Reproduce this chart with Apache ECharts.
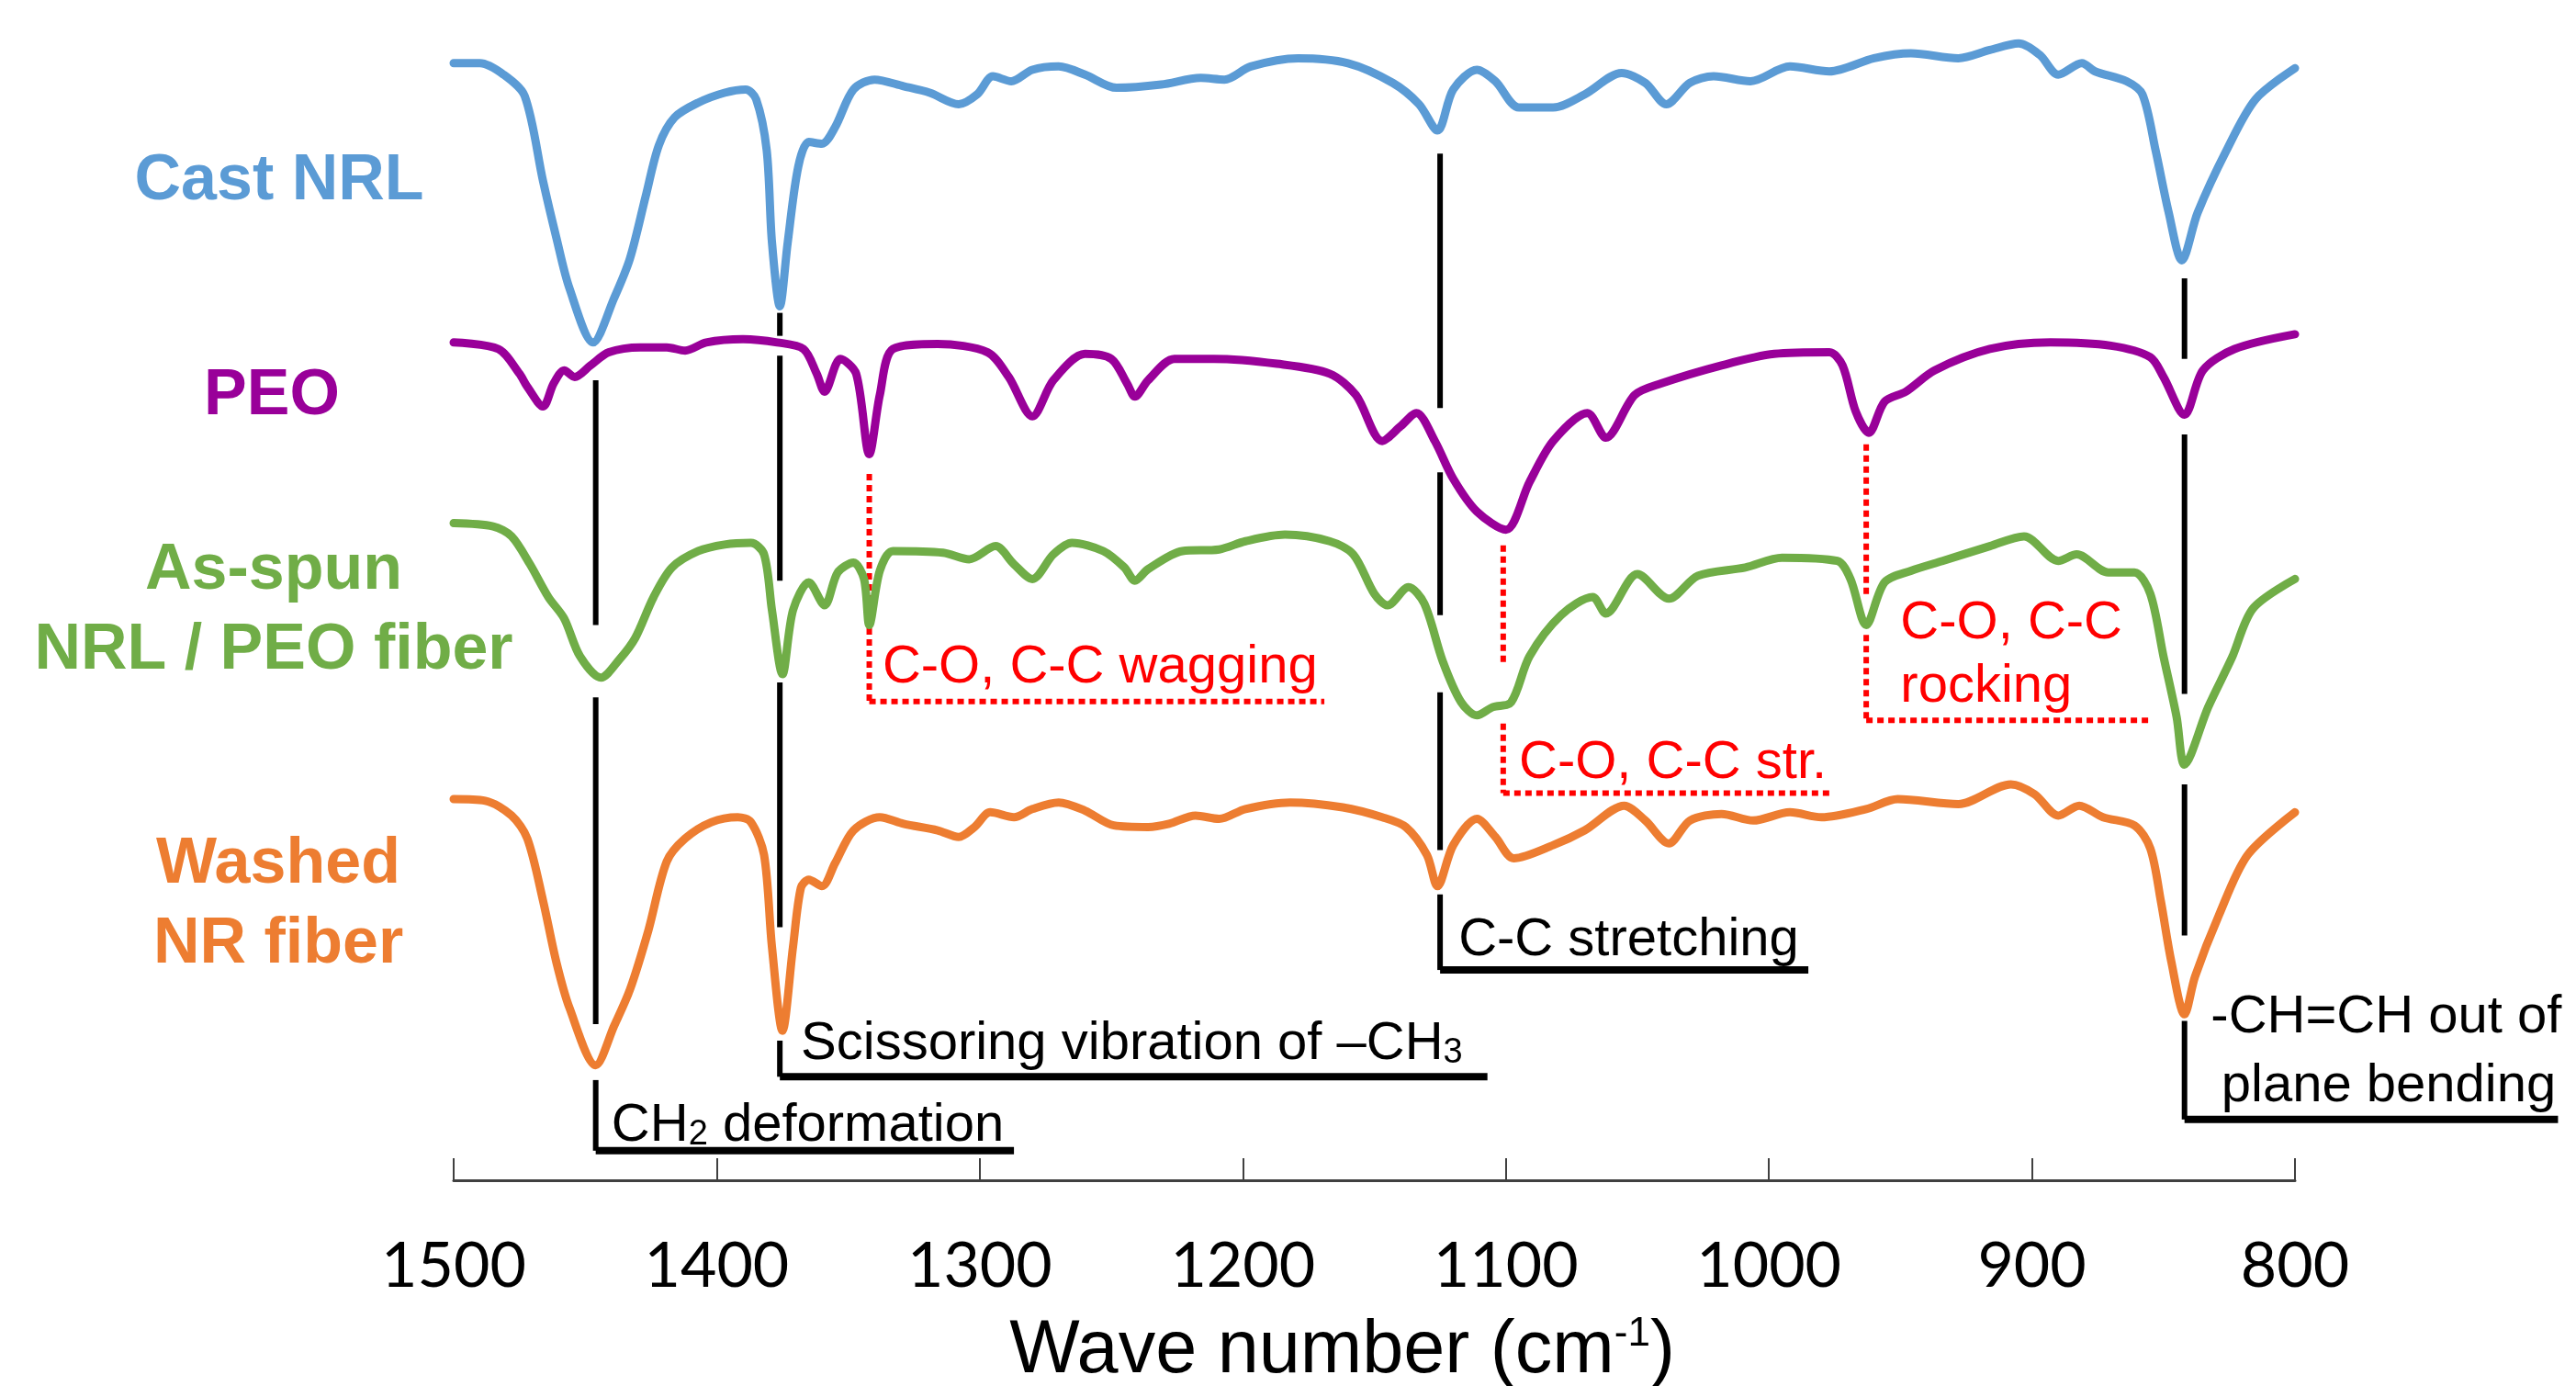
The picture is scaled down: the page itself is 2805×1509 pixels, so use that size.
<!DOCTYPE html>
<html>
<head>
<meta charset="utf-8">
<script src="https://cdn.jsdelivr.net/npm/echarts@6/dist/echarts.min.js"></script>
<style>
html,body{margin:0;padding:0;background:#fff;}
#chart{width:2805px;height:1509px;}
</style>
</head>
<body>
<div id="chart"></div>
<script>
// ---------------- data (wave number cm-1, offset transmittance a.u.) ----------------
const castNRL = [[1500,680],[1490,680],[1481,673],[1473,660],[1466,608],[1461,574],[1456,543],[1447,510],[1439,537],[1433,561],[1427,599],[1422,630],[1416,647],[1407,656],[1397,662],[1389,664],[1385,658],[1381,627],[1379,571],[1376,532],[1373,571],[1369,617],[1365,632],[1360,631],[1355,641],[1348,664],[1340,670],[1329,666],[1319,662],[1308,655],[1301,661],[1295,672],[1288,669],[1280,676],[1270,678],[1260,673],[1248,665],[1231,667],[1216,671],[1207,670],[1197,678],[1179,683],[1160,680],[1143,668],[1133,655],[1126,639],[1120,664],[1111,676],[1104,669],[1095,653],[1082,653],[1070,661],[1056,674],[1047,668],[1039,655],[1030,668],[1021,672],[1007,669],[992,678],[977,675],[960,683],[946,686],[928,683],[916,688],[905,692],[897,685],[890,673],[881,680],[876,675],[864,669],[858,661],[853,627],[848,589],[843,560],[837,589],[826,627],[815,658],[800,677]];

const peo = [[1500,510],[1483,506],[1475,491],[1472,483],[1466,471],[1462,485],[1458,493],[1454,489],[1448,496],[1441,504],[1429,507],[1419,507],[1412,505],[1404,510],[1390,512],[1377,510],[1367,506],[1362,491],[1359,480],[1353,500],[1347,491],[1342,442],[1338,478],[1333,506],[1316,509],[1297,504],[1289,489],[1280,465],[1272,487],[1260,503],[1250,500],[1244,485],[1241,477],[1236,487],[1226,500],[1211,500],[1187,497],[1167,491],[1157,478],[1147,450],[1140,459],[1134,467],[1127,450],[1120,427],[1111,407],[1100,396],[1091,425],[1082,450],[1069,467],[1062,452],[1051,478],[1041,485],[1018,496],[998,503],[977,504],[972,496],[967,468],[962,455],[956,474],[948,480],[937,493],[916,506],[893,510],[870,508],[855,501],[850,489],[842,466],[835,493],[823,506],[800,515]];

const asSpun = [[1500,400],[1485,398],[1478,392],[1471,375],[1464,355],[1458,342],[1452,319],[1444,306],[1437,317],[1431,330],[1424,355],[1417,373],[1407,383],[1397,387],[1387,388],[1382,381],[1379,347],[1375,308],[1371,347],[1365,364],[1359,350],[1354,370],[1348,376],[1344,366],[1342,338],[1338,371],[1333,383],[1314,382],[1304,378],[1294,386],[1287,375],[1280,366],[1272,381],[1265,388],[1253,383],[1245,373],[1241,365],[1236,372],[1223,383],[1209,384],[1199,389],[1184,393],[1167,389],[1158,381],[1150,357],[1145,350],[1137,361],[1131,351],[1124,316],[1117,291],[1111,283],[1105,288],[1098,291],[1091,319],[1079,344],[1067,355],[1062,345],[1050,369],[1038,354],[1027,368],[1009,373],[995,379],[974,377],[969,366],[963,338],[956,364],[946,371],[934,377],[916,386],[903,392],[890,377],[883,381],[871,370],[861,370],[855,357],[850,319],[845,282],[842,253],[833,288],[824,318],[816,348],[800,366]];

const washed = [[1500,232],[1488,231],[1478,222],[1472,208],[1466,170],[1461,133],[1456,105],[1446,70],[1439,94],[1433,116],[1426,152],[1419,194],[1412,208],[1402,218],[1392,221],[1387,218],[1382,198],[1379,142],[1375,91],[1371,142],[1368,178],[1365,183],[1360,179],[1355,193],[1348,213],[1338,221],[1329,217],[1316,213],[1308,209],[1302,215],[1296,224],[1287,221],[1280,226],[1270,230],[1260,225],[1249,216],[1236,215],[1228,217],[1218,222],[1209,220],[1199,226],[1182,230],[1162,227],[1147,221],[1138,215],[1130,198],[1126,179],[1120,204],[1111,220],[1104,209],[1097,196],[1082,204],[1070,213],[1055,228],[1047,219],[1038,205],[1030,219],[1018,223],[1006,219],[992,224],[980,221],[963,226],[951,232],[928,229],[908,241],[899,235],[890,222],[882,228],[873,221],[861,216],[855,202],[851,170],[847,133],[842,101],[838,124],[829,161],[818,198],[800,224]];

const seriesNames = ['Cast NRL', 'PEO', 'As-spun\nNRL / PEO fiber', 'Washed\nNR fiber'];
const seriesColors = ['#5B9BD5', '#990099', '#70AD47', '#ED7D31'];

// x axis range / ticks
const xMin = 800, xMax = 1500, xStep = 100;
const xTitle = '{m|Wave number (cm}{sup|-1}{m|)}';

// peak assignment guides: [wave number, from, to]
const blackSegments = [[1446,487,338],[1446,294,95],[1446,61,18],
  [1376,528,514],[1376,502,365],[1376,303,154],[1376,85,63],
  [1125,625,470],[1125,431,344],[1125,297,201],[1125,174,128],
  [842,549,500],[842,454,296],[842,241,149],[842,97,37]];
// underline: [from wn, to wn, level]
const blackUnder = [[1446,1287,18],[1376,1107,63],[1125,985,128],[842,700,37]];
const redSegments = [[1342,430,291.5],[1101,386.5,312.7],[1101,278,235.6],[963,448,356],[963,332,280]];
const redUnder = [[1342,1169,291.5],[1101,977,235.6],[963,855,280]];
// labels: [wn (left edge), level (text middle), text]
const blackTexts = [[1440,33,'CH{s|2} deformation'],[1368,83,'Scissoring vibration of \u2013CH{s|3}'],
  [1118,146,'C-C stretching'],[832,99,'-CH=CH out of'],[828,57,'plane bending']];
const redTexts = [[1337,312,'C-O, C-C wagging'],[1095,254,'C-O, C-C str.'],[950,339,'C-O, C-C'],[950,300,'rocking']];

// ---------------- build ----------------
const FONT = '"Liberation Sans", Arial, Helvetica, sans-serif';
const vSegs = s => s.map(a => [a[0], a[1], a[0], a[2]]);
const hSegs = s => s.map(a => [a[0], a[2], a[1], a[2]]);

function guideSeries(segs, color, width, dash){
  return {type:'custom', coordinateSystem:'cartesian2d', clip:false, silent:true, animation:false, z:2,
    data: segs,
    renderItem:function(params, api){
      const p1 = api.coord([api.value(0), api.value(1)]);
      const p2 = api.coord([api.value(2), api.value(3)]);
      return {type:'line', shape:{x1:p1[0], y1:p1[1], x2:p2[0], y2:p2[1]},
        style:{stroke:color, lineWidth:width, lineDash: dash || null, lineCap:'butt', fill:null}};
    }};
}
function textSeries(items, color){
  return {type:'custom', coordinateSystem:'cartesian2d', clip:false, silent:true, animation:false, z:5,
    data: items.map(t=>[t[0],t[1]]),
    renderItem:function(params, api){
      const p = api.coord([api.value(0), api.value(1)]);
      const t = items[params.dataIndex];
      return {type:'text', x:p[0], y:p[1], style:{text:t[2], fill:color,
        font:'58px ' + FONT, align:'left', verticalAlign:'middle',
        textAlign:'left', textVerticalAlign:'middle',
        rich:{s:{fontSize:38, fontFamily:FONT, fill:color, verticalAlign:'bottom', lineHeight:50}}}};
    }};
}

const curves = [castNRL, peo, asSpun, washed].map((d,i)=>({
  type:'line', name:seriesNames[i], data:d, symbol:'none', smooth:0.3, z:4, animation:false,
  lineStyle:{color:seriesColors[i], width:9, join:'round', cap:'round'}
}));

const labelPos = [[304,198],[296,432],[298,665],[303,985]];
const graphics = seriesNames.map((n,i)=>({type:'text', x:labelPos[i][0], y:labelPos[i][1], silent:true,
  style:{text:n, fill:seriesColors[i], font:'bold 70px ' + FONT,
    align:'center', verticalAlign:'middle', textAlign:'center', textVerticalAlign:'middle', lineHeight:87}}));

const chart = echarts.init(document.getElementById('chart'), null, {renderer:'canvas'});
chart.setOption({
  backgroundColor:'#ffffff',
  animation:false,
  grid:{left:494, right:306, top:33, bottom:224, containLabel:false, outerBoundsMode:'none'},
  xAxis:{type:'value', inverse:true, min:xMin, max:xMax, interval:xStep,
    axisLine:{show:true, onZero:false, lineStyle:{color:'#404040', width:3}},
    axisTick:{show:true, inside:true, length:24, lineStyle:{color:'#404040', width:2}},
    axisLabel:{margin:60, fontFamily:'Lato', fontSize:68, color:'#000', formatter:v => String(v)},
    splitLine:{show:false},
    name:xTitle, nameLocation:'middle', nameGap:146,
    nameTextStyle:{padding:[0,70,0,0], rich:{
      m:{fontFamily:FONT, fontSize:81, color:'#000', lineHeight:81},
      sup:{fontFamily:FONT, fontSize:44, color:'#000', verticalAlign:'top', lineHeight:44}}}
  },
  yAxis:{type:'value', min:0, max:700, show:false, splitLine:{show:false}},
  graphic:graphics,
  series:[
    guideSeries(vSegs(blackSegments), '#000', 6, null),
    guideSeries(hSegs(blackUnder), '#000', 8, null),
    guideSeries(vSegs(redSegments), '#FF0000', 6, [7,5]),
    guideSeries(hSegs(redUnder), '#FF0000', 6, [7,5]),
    ...curves,
    textSeries(blackTexts, '#000'),
    textSeries(redTexts, '#FF0000')
  ]
});
</script>
</body>
</html>
